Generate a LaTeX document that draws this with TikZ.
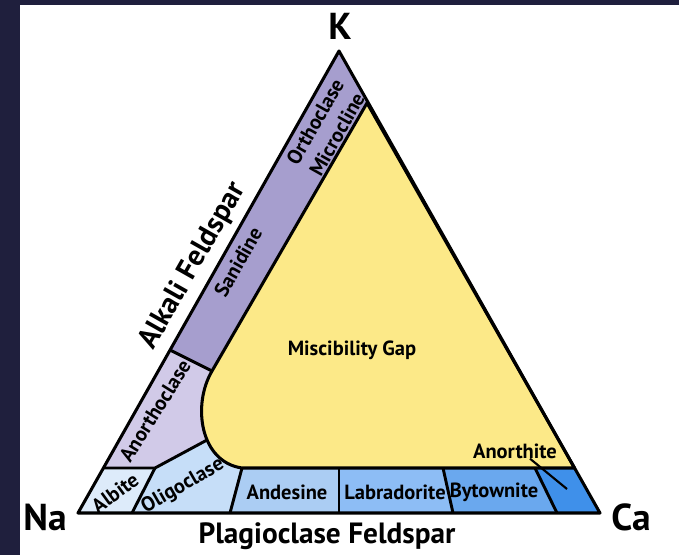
\documentclass[tikz,border=0pt]{standalone}
\usepackage{fontspec}
\setmainfont{PT Sans}
\usepackage{xcolor}
\usetikzlibrary{positioning,calc}
\definecolor{frameDark}{HTML}{1F1F3D}
\definecolor{sanPurple}{HTML}{A69ECE}
\definecolor{anoPurple}{HTML}{D1CAE8}
\definecolor{gapYellow}{HTML}{FCE988}
\definecolor{albBlue}{HTML}{DDEBFA}
\definecolor{oliBlue}{HTML}{C6DEF8}
\definecolor{andBlue}{HTML}{ABCDF3}
\definecolor{labBlue}{HTML}{8DBDF5}
\definecolor{bytBlue}{HTML}{6AA8EE}
\definecolor{anoBlue}{HTML}{3F90EA}
\tikzset{
  fieldLine/.style={
    line width=2.6pt,
    line join=round
  },
  thinLine/.style={
    line width=2.5pt
  },
  elemLabel/.style={
    font=\bfseries\fontsize{32}{34}\selectfont,
    inner sep=0pt
  },
  groupLabel/.style={
    font=\bfseries\fontsize{25}{28}\selectfont,
    inner sep=0pt
  },
  minLabel/.style={
    font=\bfseries\fontsize{17.5}{21.5}\selectfont,
    inner sep=0pt,
    align=center
  }
}
\begin{document}
\begin{tikzpicture}[x=0.03cm,y=-0.03cm]
    % frame
    \fill[frameDark] (0,0) rectangle (679,555);
    \fill[white] (20,5) rectangle (679,555);
    \useasboundingbox (0,0) rectangle (679,555);

    % corners and field points
    \coordinate (NaPt) at (78,513);
    \coordinate (CaPt) at (600,513);
    \coordinate (KPt) at (339,51);
    \coordinate (gapTop) at (367,103);
    \coordinate (gapLeft) at (212,371);
    \coordinate (sanLow) at (170,350);
    \coordinate (albTop) at (103.5,468);
    \coordinate (albMid) at (155,468);
    \coordinate (oliTop) at (207,440);
    \coordinate (gapLow) at (242,468);
    \coordinate (gapRight) at (574.5,468);
    \coordinate (albBot) at (132,513);
    \coordinate (oliBot) at (230,513);
    \coordinate (andTop) at (339,468);
    \coordinate (andBot) at (339,513);
    \coordinate (labTop) at (443,468);
    \coordinate (labBot) at (453,513);
    \coordinate (bytTop) at (535,468);
    \coordinate (bytBot) at (557,513);

    % fields
    \fill[sanPurple] (KPt) -- (gapTop) -- (gapLeft) -- (sanLow) -- cycle;
    \fill[anoPurple] (albTop) -- (sanLow) -- (gapLeft) -- (230,400) -- (oliTop) -- (albMid) -- cycle;
    \fill[albBlue] (NaPt) -- (albTop) -- (albMid) -- (albBot) -- cycle;
    \fill[oliBlue] (albMid) -- (oliTop) -- (240,440) -- (gapLow) -- (oliBot) -- (albBot) -- cycle;
    \fill[andBlue] (gapLow) -- (andTop) -- (andBot) -- (oliBot) -- cycle;
    \fill[labBlue] (andTop) -- (labTop) -- (labBot) -- (andBot) -- cycle;
    \fill[bytBlue] (labTop) -- (bytTop) -- (bytBot) -- (labBot) -- cycle;
    \fill[anoBlue] (bytTop) -- (gapRight) -- (CaPt) -- (bytBot) -- cycle;
    \filldraw[fieldLine, fill=gapYellow] (gapTop) -- (gapRight) -- (gapLow)
        .. controls (200,462) and (192,405) .. (gapLeft) -- cycle;

    % boundaries
    \draw[thinLine] (sanLow) -- (gapLeft);
    \draw[thinLine] (albTop) -- (albMid) -- (oliTop);
    \draw[thinLine] (albMid) -- (albBot);
    \draw[thinLine] (gapLow) -- (oliBot);
    \draw[thinLine] (andTop) -- (andBot);
    \draw[thinLine] (labTop) -- (labBot);
    \draw[thinLine] (bytTop) -- (bytBot);
    \draw[fieldLine] (NaPt) -- (KPt) -- (CaPt) -- cycle;

    % labels
    \node[elemLabel] (K) at (340,26) {K};
    \node[elemLabel] (Na) at (45,517) {Na};
    \node[elemLabel] (Ca) at (631,517) {Ca};
    \node[groupLabel] (plagName) at (327,536) {Plagioclase Feldspar};
    \node[groupLabel, rotate=60.5] (alkName) at (193,266) {Alkali Feldspar};

    \node[minLabel, rotate=60.5] (orthoMicro) at (326,128) {Orthoclase\\Microcline};
    \node[minLabel, rotate=60.5] (sanidine) at (238,262) {Sanidine};
    \node[minLabel, rotate=58] (anortho) at (155,411) {Anorthoclase};
    \node[minLabel, rotate=36] (albite) at (115,493) {Albite};
    \node[minLabel, rotate=30] (oligo) at (183,486) {Oligoclase};
    \node[minLabel] (gapName) at (352,350) {Miscibility Gap};
    \node[minLabel] (andesine) at (287,492) {Andesine};
    \node[minLabel] (labrad) at (395,492) {Labradorite};
    \node[minLabel] (bytown) at (494,492) {Bytownite};
    \node[minLabel] (anorthite) at (515,451) {Anorthite};
    \coordinate (anoFrom) at ($(anorthite.south)+(15,0)$);
    \coordinate (anoTip) at (567,489);
    \draw[line width=1.8pt] (anoFrom) -- (anoTip);
\end{tikzpicture}
\end{document}
